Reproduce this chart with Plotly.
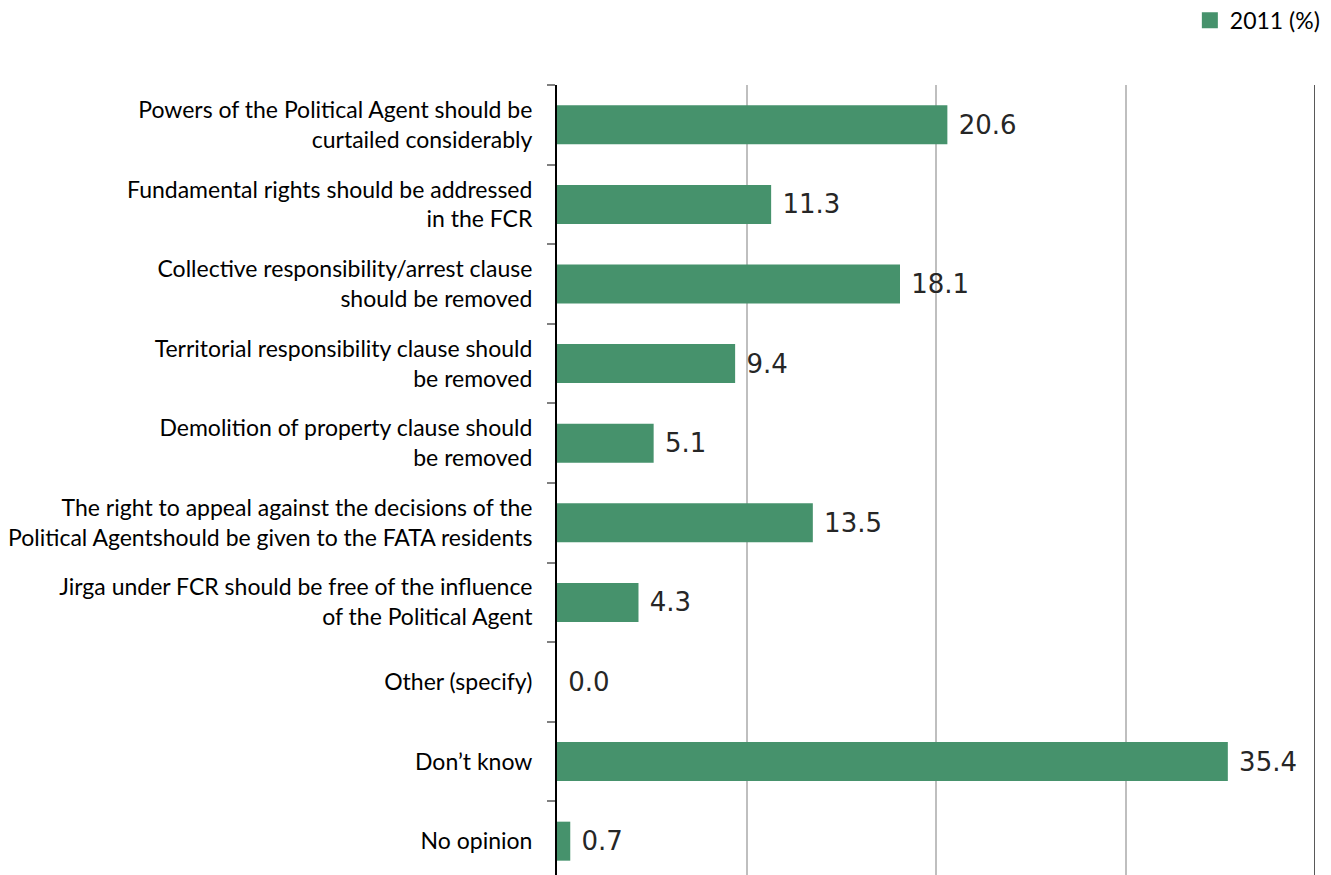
import plotly.graph_objects as go

# Survey responses on FCR reform (2011, %)
categories = [
    "Powers of the Political Agent should be<br>curtailed considerably",
    "Fundamental rights should be addressed<br>in the FCR",
    "Collective responsibility/arrest clause<br>should be removed",
    "Territorial responsibility clause should<br>be removed",
    "Demolition of property clause should<br>be removed",
    "The right to appeal against the decisions of the<br>Political Agentshould be given to the FATA residents",
    "Jirga under FCR should be free of the influence<br>of the Political Agent",
    "Other (specify)",
    "Don’t know",
    "No opinion",
]
values_2011 = [20.6, 11.3, 18.1, 9.4, 5.1, 13.5, 4.3, 0.0, 35.4, 0.7]
series_name = "2011 (%)"

BAR_COLOR = "#46926C"
LABEL_FONT = "Lato"
LABEL_SIZE = 23

fig = go.Figure()
fig.add_trace(go.Bar(
    y=categories,
    x=values_2011,
    orientation="h",
    name=series_name,
    marker=dict(color=BAR_COLOR, line=dict(width=0)),
    text=[" " + f"{v:.1f}" for v in values_2011],
    textposition="outside",
    cliponaxis=False,
    textfont=dict(family="DejaVu Sans", size=26, color="#262626"),
    showlegend=False,
))

# legend entry with a larger square swatch
fig.add_trace(go.Scatter(
    x=[None], y=[None],
    mode="markers",
    name=series_name,
    marker=dict(symbol="square", size=16, color=BAR_COLOR),
    showlegend=True,
))

# darker right-hand border at the end of the value axis
fig.add_shape(type="line", xref="x", yref="paper", x0=40, x1=40, y0=0, y1=1,
              line=dict(color="#595959", width=2))

fig.update_layout(
    width=1331,
    height=875,
    margin=dict(l=557, r=16, t=85, b=0, autoexpand=False),
    paper_bgcolor="white",
    plot_bgcolor="white",
    bargap=0.51,
    font=dict(family=LABEL_FONT, size=LABEL_SIZE, color="#000000"),
    legend=dict(
        x=1.013, xanchor="right", y=1.082, yanchor="middle",
        font=dict(family=LABEL_FONT, size=LABEL_SIZE, color="#000000"),
        bgcolor="rgba(0,0,0,0)",
        itemwidth=30,
    ),
    xaxis=dict(
        range=[0, 40],
        dtick=10,
        showgrid=True,
        gridcolor="#BFBFBF",
        gridwidth=1.5,
        showticklabels=False,
        zeroline=False,
        showline=False,
        fixedrange=True,
    ),
    yaxis=dict(
        type="category",
        categoryorder="array",
        categoryarray=categories,
        range=[9.425, -0.5],
        tickson="boundaries",
        ticks="outside",
        ticklen=8,
        tickcolor="#808080",
        tickwidth=1.5,
        showline=True,
        linecolor="#000000",
        linewidth=2,
        showgrid=False,
        ticklabelstandoff=18,
        tickfont=dict(family=LABEL_FONT, size=LABEL_SIZE, color="#000000"),
    ),
)

fig.write_html("out.html")
